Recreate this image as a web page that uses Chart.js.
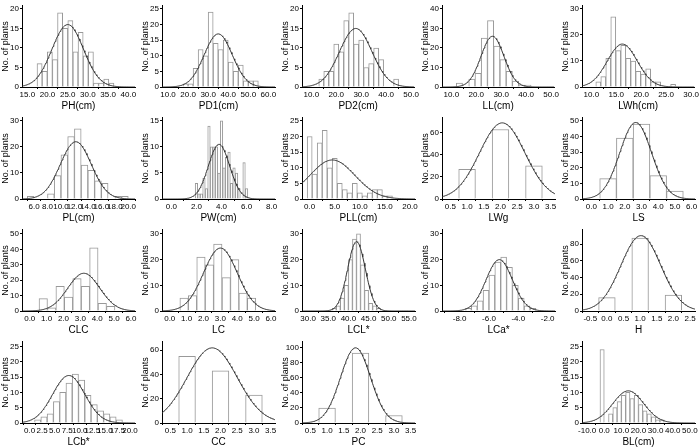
<!DOCTYPE html>
<html><head><meta charset="utf-8">
<script src="https://cdn.jsdelivr.net/npm/chart.js@4"></script>
<style>
body{margin:0;background:#fff;}
#wrap{position:relative;width:700px;height:448px;overflow:hidden;}
.cell{position:absolute;width:140px;height:112px;}
</style></head><body><div id="wrap"></div>
<script>
// ---- data: counts per bin, [first lower edge, bin width], fitted normal [mean, sd, peak], ticks ----
const PH_counts=[6,4,9,7,19,15,17,9,14,8,9,1,1,2,1];
const PH_bin=[17.4,1.27];
const PH_fit=[25.0,3.9,16];
const PH_xticks=[15,20,25,30,35,40];
const PH_yticks=[0,5,10,15,20];

const PD1_counts=[1,1,6,12,10,24,14,12,15,8,5,7,2,2,2];
const PD1_bin=[17.5,2.5];
const PD1_fit=[35.0,7.0,17];
const PD1_xticks=[10,20,30,40,50,60];
const PD1_yticks=[0,5,10,15,20,25];

const PD2_counts=[2,4,4,11,9,17,19,11,12,5,6,10,7,0,0,2];
const PD2_bin=[13,2];
const PD2_fit=[27.8,6.5,15];
const PD2_xticks=[10,20,30,40,50];
const PD2_yticks=[0,5,10,15,20];

const LL_counts=[2,0,4,7,25,34,21,14,8,3,1,1];
const LL_bin=[12,2.5];
const LL_fit=[26.5,4.6,26];
const LL_xticks=[10,20,30,40,50];
const LL_yticks=[0,10,20,30,40];

const LWh_counts=[2,4,11,27,14,16,11,10,6,5,7,2,2,0,0,1];
const LWh_bin=[10.9,1.0];
const LWh_fit=[16.2,3.0,16.5];
const LWh_xticks=[10,15,20,25,30];
const LWh_yticks=[0,10,20,30];

const PL_counts=[1,0,0,2,9,17,24,27,13,11,7,6,0,1,1];
const PL_bin=[5,1];
const PL_fit=[12.2,2.3,22];
const PL_xticks=[6,8,10,12,14,16,18,20];
const PL_yticks=[0,10,20,30];

const PW_counts=[3,1,1,4,2,14,10,10,10,5,15,6,8,9,3,6,5,2,0,7,2];
const PW_bin=[1.9,0.2];
const PW_fit=[3.8,0.85,10.5];
const PW_xticks=[0,2,4,6,8];
const PW_yticks=[0,5,10,15];

const PLL_counts=[20,8,18,22,10,13,5,3,2,5,2,1,2,3,3,1,1];
const PLL_bin=[-0.5,1];
const PLL_fit=[4.5,4.5,12.5];
const PLL_xticks=[0,5,10,15,20];
const PLL_yticks=[0,5,10,15,20,25];

const LWg_counts=[27,63,30];
const LWg_bin=[0.5,1];
const LWg_fit=[2.05,0.68,69];
const LWg_xticks=[0.5,1.0,1.5,2.0,2.5,3.0,3.5];
const LWg_yticks=[0,20,40,60];

const LS_counts=[13,39,48,15,5];
const LS_bin=[0.5,1];
const LS_fit=[2.65,0.95,49];
const LS_xticks=[0,1,2,3,4,5,6];
const LS_yticks=[0,10,20,30,40,50];

const CLC_counts=[8,2,16,9,21,16,41,5,3];
const CLC_bin=[0.55,0.5];
const CLC_fit=[3.2,0.95,24.5];
const CLC_xticks=[0,1,2,3,4,5,6];
const CLC_yticks=[0,10,20,30,40,50];

const LC_counts=[5,6,21,18,26,13,20,7,5];
const LC_bin=[0.6,0.5];
const LC_fit=[3.0,1.0,24.5];
const LC_xticks=[0,1,2,3,4,5,6];
const LC_yticks=[0,10,20,30];

const LCL_counts=[1,2,5,10,20,28,30,18,8,3,2,1];
const LCL_bin=[36,1];
const LCL_fit=[42,2.2,27];
const LCL_xticks=[30,35,40,45,50,55];
const LCL_yticks=[0,10,20,30];

const LCa_counts=[1,2,4,8,14,19,21,17,10,5,2,1];
const LCa_bin=[-7.6,0.4];
const LCa_fit=[-5.3,0.9,20];
const LCa_xticks=[-8,-6,-4,-2];
const LCa_yticks=[0,10,20,30];

const H_counts=[16,87,19];
const H_bin=[-0.5,1];
const H_fit=[1.02,0.6,90];
const H_xticks=[-0.5,0.0,0.5,1.0,1.5,2.0,2.5];
const H_yticks=[0,20,40,60,80];

const LCb_counts=[1,2,3,7,10,13,16,14,9,6,4,3,2,1];
const LCb_bin=[1,1.25];
const LCb_fit=[7.8,3.2,15.5];
const LCb_xticks=[0,2.5,5,7.5,10,12.5,15,17.5,20];
const LCb_yticks=[0,5,10,15,20,25];

const CC_counts=[55,43,23];
const CC_bin=[0.5,1];
const CC_fit=[1.75,0.75,62];
const CC_xticks=[0.5,1.0,1.5,2.0,2.5,3.0,3.5];
const CC_yticks=[0,20,40,60];

const PC_counts=[20,93,10];
const PC_bin=[0.5,1];
const PC_fit=[1.85,0.45,100];
const PC_xticks=[0.5,1.0,1.5,2.0,2.5,3.0,3.5];
const PC_yticks=[0,20,40,60,80,100];

const BL_counts=[24,0,3,5,7,9,10,8,9,6,4,3,2,1,1];
const BL_bin=[-2.5,2.5];
const BL_fit=[14,9,10.5];
const BL_xticks=[-10,0,10,20,30,40,50];
const BL_yticks=[0,5,10,15,20,25];

// ---- panel table (layout: column, row, axis ranges) ----
const panels=[
 {t:'PH(cm)',c:PH_counts,b:PH_bin,f:PH_fit,xt:PH_xticks,yt:PH_yticks,xr:[13.68,41.66],ymax:20.8,col:0,row:0,d:1},
 {t:'PD1(cm)',c:PD1_counts,b:PD1_bin,f:PD1_fit,xt:PD1_xticks,yt:PD1_yticks,xr:[7,63.3],ymax:26,col:1,row:0,d:1},
 {t:'PD2(cm)',c:PD2_counts,b:PD2_bin,f:PD2_fit,xt:PD2_xticks,yt:PD2_yticks,xr:[6.27,51.3],ymax:20.8,col:2,row:0,d:1},
 {t:'LL(cm)',c:LL_counts,b:LL_bin,f:LL_fit,xt:LL_xticks,yt:LL_yticks,xr:[6.27,51.3],ymax:41.6,col:3,row:0,d:1},
 {t:'LWh(cm)',c:LWh_counts,b:LWh_bin,f:LWh_fit,xt:LWh_xticks,yt:LWh_yticks,xr:[8.13,30.67],ymax:31.2,col:4,row:0,d:1},
 {t:'PL(cm)',c:PL_counts,b:PL_bin,f:PL_fit,xt:PL_xticks,yt:PL_yticks,xr:[4.21,21],ymax:31.2,col:0,row:1,d:1},
 {t:'PW(cm)',c:PW_counts,b:PW_bin,f:PW_fit,xt:PW_xticks,yt:PW_yticks,xr:[-0.75,8.27],ymax:15.6,col:1,row:1,d:1},
 {t:'PLL(cm)',c:PLL_counts,b:PLL_bin,f:PLL_fit,xt:PLL_xticks,yt:PLL_yticks,xr:[-1.53,21],ymax:26,col:2,row:1,d:1},
 {t:'LWg',c:LWg_counts,b:LWg_bin,f:LWg_fit,xt:LWg_xticks,yt:LWg_yticks,xr:[0.25,3.63],ymax:73.6,col:3,row:1,d:1},
 {t:'LS',c:LS_counts,b:LS_bin,f:LS_fit,xt:LS_xticks,yt:LS_yticks,xr:[-0.56,6.2],ymax:52,col:4,row:1,d:1},
 {t:'CLC',c:CLC_counts,b:CLC_bin,f:CLC_fit,xt:CLC_xticks,yt:CLC_yticks,xr:[-0.46,6.24],ymax:52.7,col:0,row:2,d:1},
 {t:'LC',c:LC_counts,b:LC_bin,f:LC_fit,xt:LC_xticks,yt:LC_yticks,xr:[-0.46,6.24],ymax:31.6,col:1,row:2,d:1},
 {t:'LCL*',c:LCL_counts,b:LCL_bin,f:LCL_fit,xt:LCL_xticks,yt:LCL_yticks,xr:[28.5,56.5],ymax:31.6,col:2,row:2,d:1},
 {t:'LCa*',c:LCa_counts,b:LCa_bin,f:LCa_fit,xt:LCa_xticks,yt:LCa_yticks,xr:[-9.2,-1.5],ymax:31.6,col:3,row:2,d:1},
 {t:'H',c:H_counts,b:H_bin,f:H_fit,xt:H_xticks,yt:H_yticks,xr:[-0.75,2.65],ymax:97,col:4,row:2,d:1},
 {t:'LCb*',c:LCb_counts,b:LCb_bin,f:LCb_fit,xt:LCb_xticks,yt:LCb_yticks,xr:[-1.5,21],ymax:26.5,col:0,row:3,d:1},
 {t:'CC',c:CC_counts,b:CC_bin,f:CC_fit,xt:CC_xticks,yt:CC_yticks,xr:[0.25,3.63],ymax:67,col:1,row:3,d:1},
 {t:'PC',c:PC_counts,b:PC_bin,f:PC_fit,xt:PC_xticks,yt:PC_yticks,xr:[0.25,3.63],ymax:108,col:2,row:3,d:1},
 {t:'BL(cm)',c:BL_counts,b:BL_bin,f:BL_fit,xt:BL_xticks,yt:BL_yticks,xr:[-13,53],ymax:26.5,col:4,row:3,d:1}
];

const FONT="'Liberation Sans', Arial, sans-serif";
const wrap=document.getElementById('wrap');

function makePanel(p){
  const div=document.createElement('div');
  div.className='cell';
  div.style.left=(p.col*140)+'px';
  div.style.top=(p.row*112)+'px';
  const cv=document.createElement('canvas');
  cv.width=140; cv.height=112;
  div.appendChild(cv); wrap.appendChild(div);
  const bars=p.c.map((v,i)=>({x:p.b[0]+p.b[1]*(i+0.5),y:v}));
  const curve=[];
  const N=160;
  for(let i=0;i<=N;i++){
    const x=p.xr[0]+(p.xr[1]-p.xr[0])*i/N;
    curve.push({x:x,y:p.f[2]*Math.exp(-0.5*Math.pow((x-p.f[0])/p.f[1],2))});
  }
  new Chart(cv,{
    type:'bar',
    data:{datasets:[
      {type:'line',data:curve,borderColor:'#333',borderWidth:1,pointRadius:0,tension:0,order:0,fill:false},
      {type:'bar',data:bars,backgroundColor:'#ffffff',borderColor:'#999999',borderWidth:1,barPercentage:1,categoryPercentage:1,order:1}
    ]},
    options:{
      responsive:false,animation:false,devicePixelRatio:1,
      layout:{padding:{top:3,right:5,left:0,bottom:0}},
      plugins:{legend:{display:false},tooltip:{enabled:false}},
      scales:{
        x:{type:'linear',min:p.xr[0],max:p.xr[1],offset:false,
          afterBuildTicks:s=>{s.ticks=p.xt.map(v=>({value:v}));},
          afterFit:s=>{s.height=25;},
          grid:{display:true,drawOnChartArea:false,drawTicks:true,tickLength:2,color:'#000'},
          border:{display:true,color:'#000',width:1},
          ticks:{autoSkip:false,maxRotation:0,minRotation:0,padding:1,color:'#000',font:{family:FONT,size:8},callback:v=>Number(v).toFixed(p.d)},
          title:{display:true,text:p.t,color:'#000',font:{family:FONT,size:10},padding:{top:1,bottom:0}}
        },
        y:{type:'linear',min:0,max:p.ymax,
          afterBuildTicks:s=>{s.ticks=p.yt.map(v=>({value:v}));},
          afterFit:s=>{s.width=22;},
          grid:{display:true,drawOnChartArea:false,drawTicks:true,tickLength:2,color:'#000'},
          border:{display:true,color:'#000',width:1},
          ticks:{autoSkip:false,padding:1,color:'#000',font:{family:FONT,size:8},callback:v=>String(v)},
          title:{display:true,text:'No. of plants',color:'#000',font:{family:FONT,size:9},padding:{top:0,bottom:1}}
        }
      }
    }
  });
}
panels.forEach(makePanel);
</script></body></html>
